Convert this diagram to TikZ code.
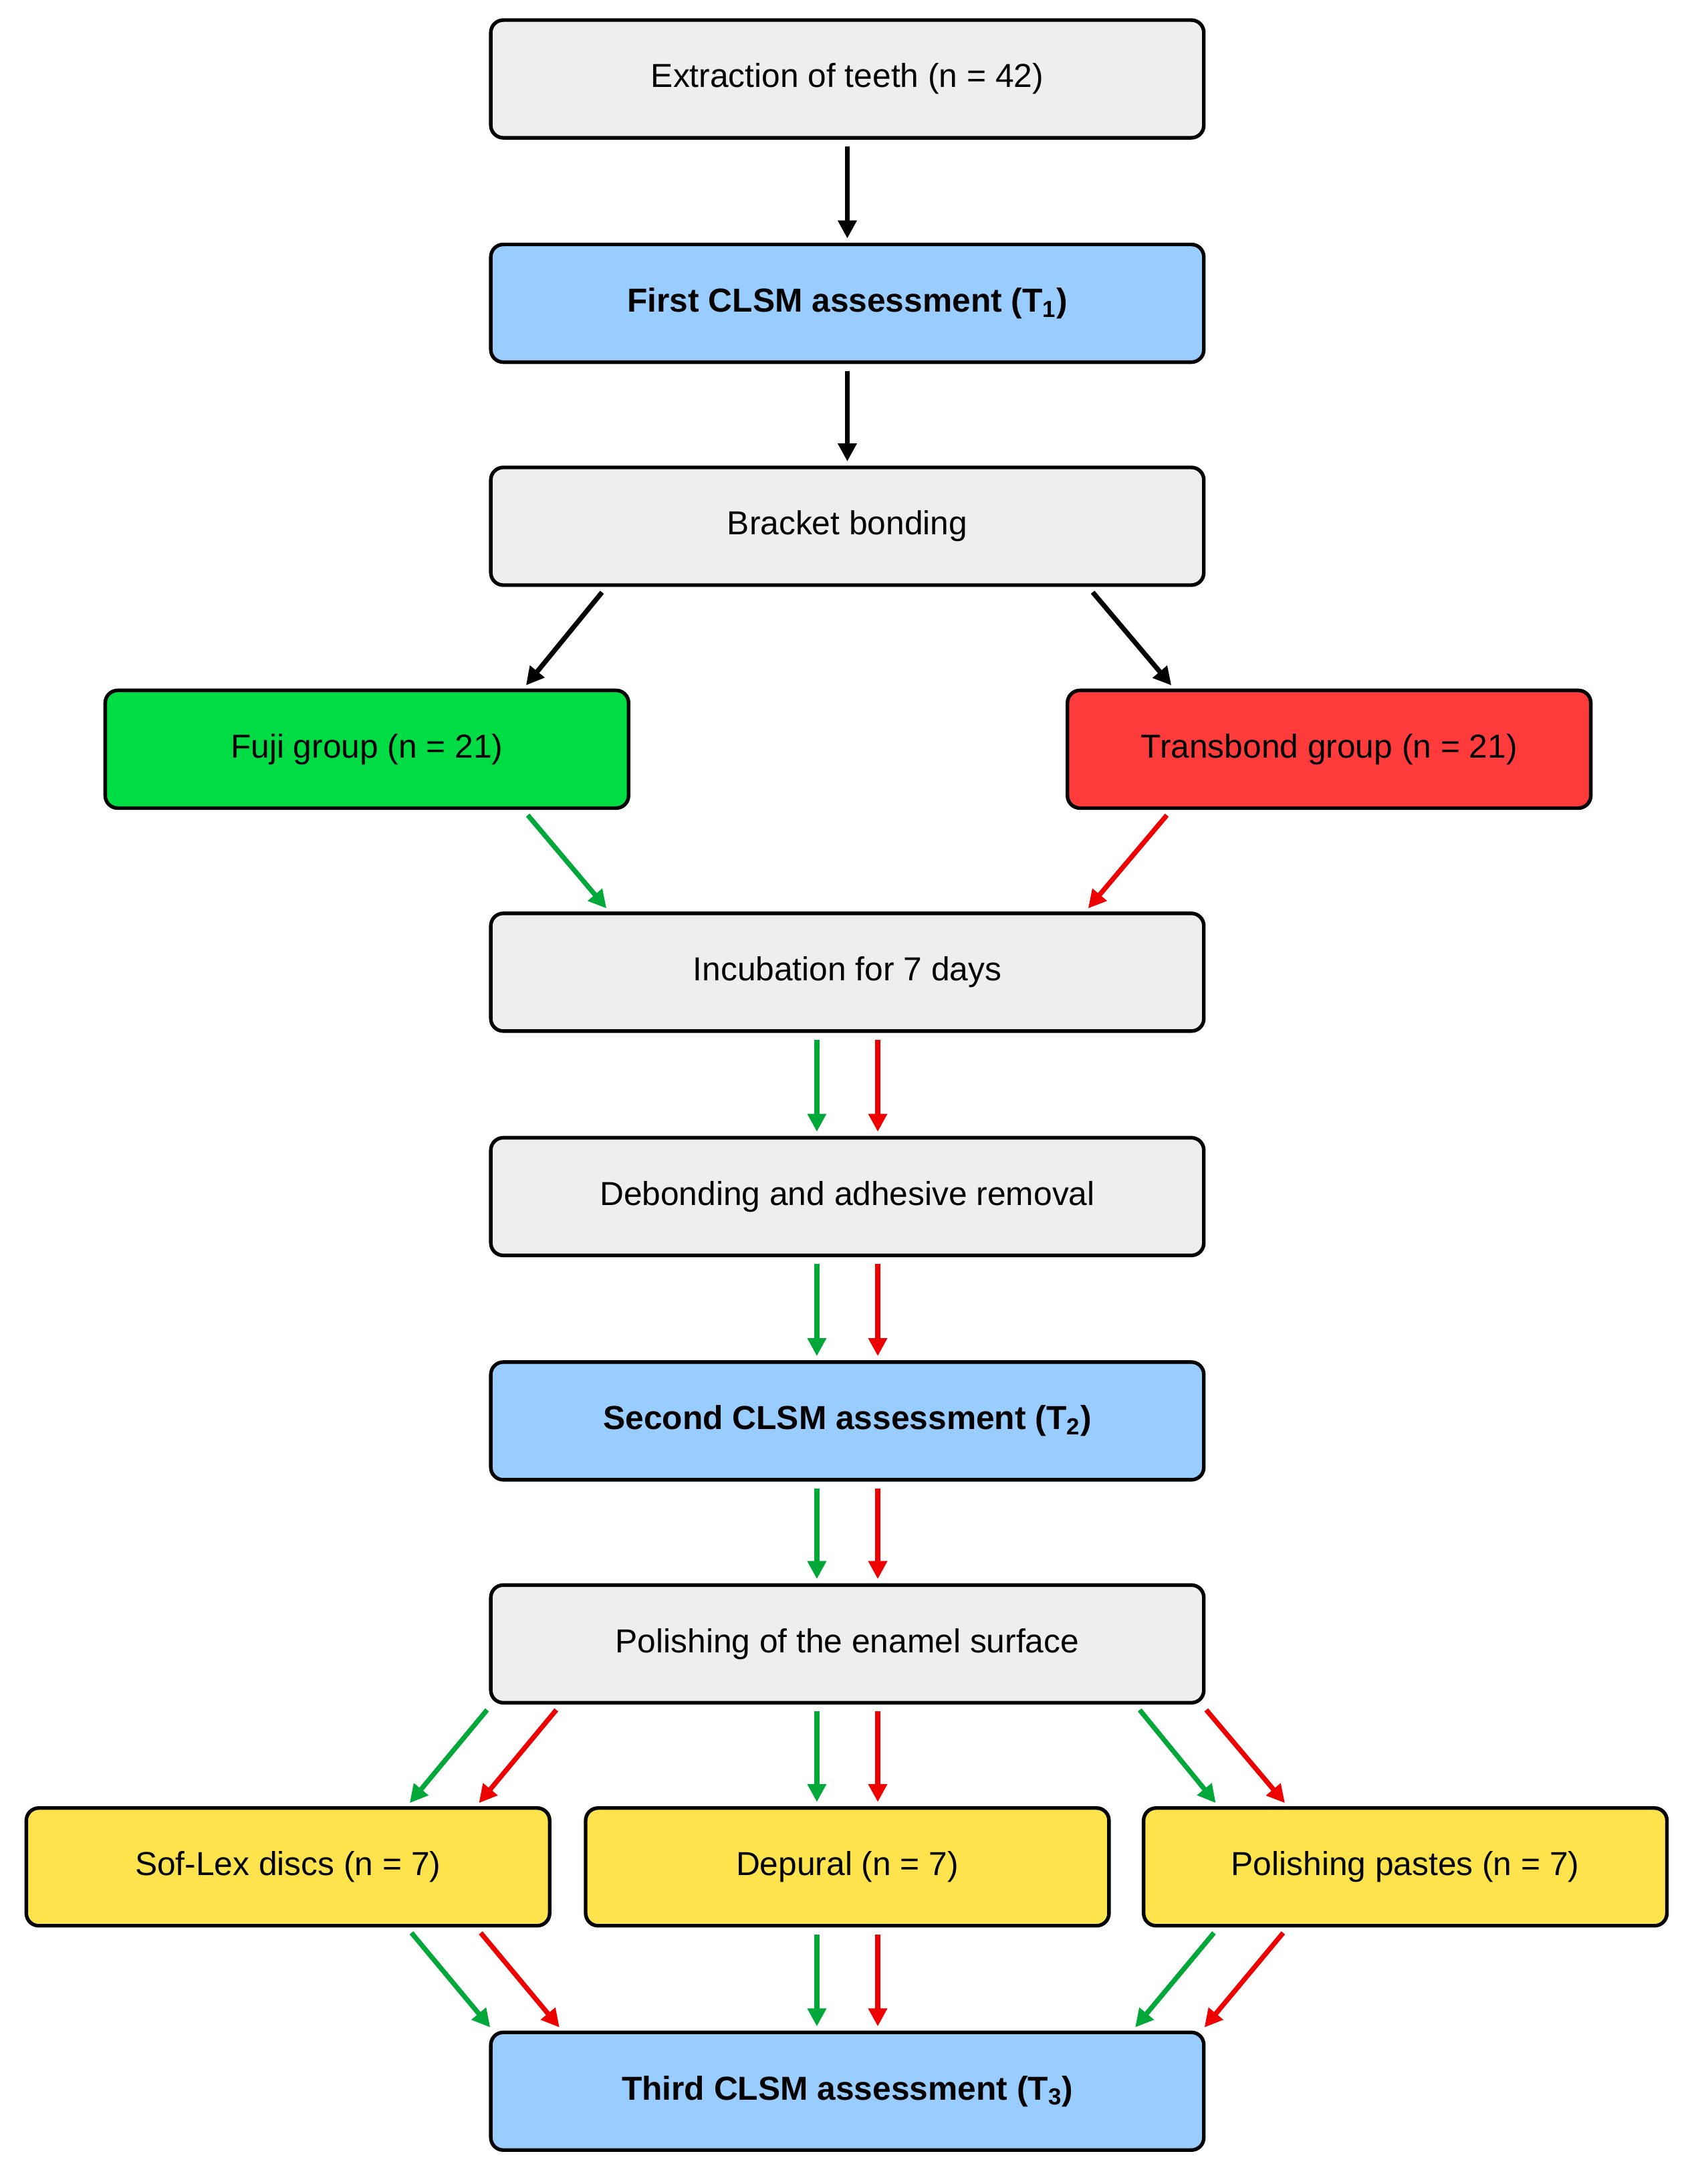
\documentclass[tikz,border=0pt]{standalone}
\usepackage{fontspec}
\setmainfont{Liberation Sans}
\usetikzlibrary{arrows.meta}
\definecolor{cgray}{HTML}{EEEEEE}
\definecolor{cblue}{HTML}{99CCFF}
\definecolor{cgreen}{HTML}{00DD44}
\definecolor{cred}{HTML}{FF3B3B}
\definecolor{cyel}{HTML}{FFE34D}
\definecolor{agreen}{HTML}{00A83A}
\definecolor{ared}{HTML}{EE0000}
\begin{document}
\begin{tikzpicture}[x=1pt,y=-1pt,
 box/.style={draw=black,line width=2.6pt,rounded corners=9pt,minimum height=85pt,inner sep=0pt,font=\fontsize{24}{28}\selectfont},
 main/.style={box,minimum width=515pt},
 side/.style={box,minimum width=378pt},
 ar/.style={line width=3.5pt,-{Triangle[length=13pt,width=13pt]},shorten <=5pt,shorten >=3pt},
 bk/.style={ar,black},
 gr/.style={ar,agreen},
 rd/.style={ar,ared}]
\useasboundingbox (0,0) rectangle (1222,1577);
\node[main,fill=cgray] (ext) at (612,57) {Extraction of teeth (n = 42)};
\node[main,fill=cblue] (t1) at (612,219) {\textbf{First CLSM assessment (T\textsubscript{1})}};
\node[main,fill=cgray] (bb) at (612,380) {Bracket bonding};
\node[side,fill=cgreen] (fuji) at (265,541) {Fuji group (n = 21)};
\node[side,fill=cred] (trans) at (960,541) {Transbond group (n = 21)};
\node[main,fill=cgray] (inc) at (612,702) {Incubation for 7 days};
\node[main,fill=cgray] (deb) at (612,864) {Debonding and adhesive removal};
\node[main,fill=cblue] (t2) at (612,1026) {\textbf{Second CLSM assessment (T\textsubscript{2})}};
\node[main,fill=cgray] (pol) at (612,1187) {Polishing of the enamel surface};
\node[side,fill=cyel] (sof) at (208,1348) {Sof-Lex discs (n = 7)};
\node[side,fill=cyel] (dep) at (612,1348) {Depural (n = 7)};
\node[side,fill=cyel] (pp) at (1015,1348) {Polishing pastes (n = 7)};
\node[main,fill=cblue] (t3) at (612,1510) {\textbf{Third CLSM assessment (T\textsubscript{3})}};
\draw[bk] (ext.south) -- (t1.north);
\draw[bk] (t1.south) -- (bb.north);
\draw[bk] ([xshift=-174pt]bb.south) -- ([xshift=113pt]fuji.north);
\draw[bk] ([xshift=174pt]bb.south) -- ([xshift=-112pt]trans.north);
\draw[gr] ([xshift=113pt]fuji.south) -- ([xshift=-172pt]inc.north);
\draw[rd] ([xshift=-114pt]trans.south) -- ([xshift=172pt]inc.north);
\foreach \a/\b in {inc/deb,deb/t2,t2/pol,pol/dep,dep/t3}{
 \draw[gr] ([xshift=-22pt]\a.south) -- ([xshift=-22pt]\b.north);
 \draw[rd] ([xshift=22pt]\a.south) -- ([xshift=22pt]\b.north);}
\draw[gr] ([xshift=-257pt]pol.south) -- ([xshift=86pt]sof.north);
\draw[rd] ([xshift=-207pt]pol.south) -- ([xshift=136pt]sof.north);
\draw[gr] ([xshift=208pt]pol.south) -- ([xshift=-135pt]pp.north);
\draw[rd] ([xshift=256pt]pol.south) -- ([xshift=-85pt]pp.north);
\draw[gr] ([xshift=86pt]sof.south) -- ([xshift=-256pt]t3.north);
\draw[rd] ([xshift=136pt]sof.south) -- ([xshift=-206pt]t3.north);
\draw[gr] ([xshift=-135pt]pp.south) -- ([xshift=206pt]t3.north);
\draw[rd] ([xshift=-85pt]pp.south) -- ([xshift=256pt]t3.north);
\end{tikzpicture}
\end{document}
